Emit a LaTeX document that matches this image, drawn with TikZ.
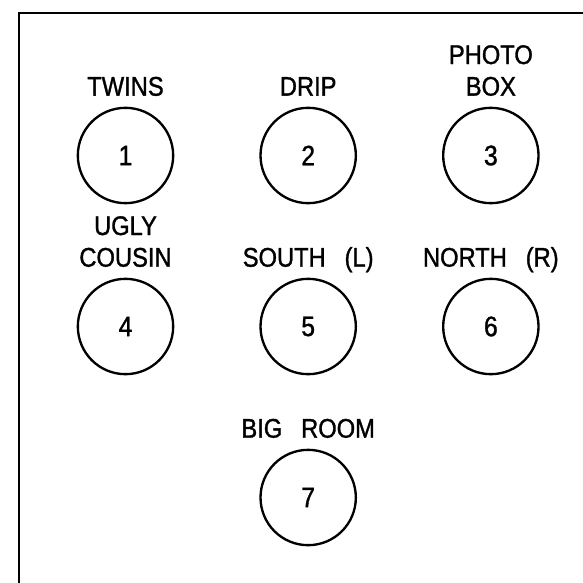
\documentclass[tikz,border=0pt]{standalone}
\usepackage{fontspec}
\setmainfont{Liberation Sans}[FakeStretch=0.88, FakeBold=1.2]
\usetikzlibrary{positioning}

\newcommand{\wgap}{\hspace{0.7em}}

\begin{document}
\begin{tikzpicture}[
  node distance=2.2cm and 2.55cm,
  room/.style={draw, circle, line width=2pt, minimum size=2.86cm,
    inner sep=0pt, font=\fontsize{24}{27}\selectfont},
  tag/.style={inner sep=0pt, outer sep=0pt, text depth=0pt, align=center,
    font=\fontsize{23}{27}\selectfont},
  frame/.style={line width=2.1pt}
]
\clip (0,0) rectangle (17.49,17.49);
\useasboundingbox (0,0) rectangle (17.49,17.49);
% outer frame, open to the right and bottom
\draw[frame] (0.57,-1) |- (18.5,17.1);
% rooms
\node[room] (r1) at (3.765,12.825) {1};
\node[room, right=of r1] (r2) {2};
\node[room, right=of r2] (r3) {3};
\node[room, below=of r1] (r4) {4};
\node[room, below=of r2] (r5) {5};
\node[room, below=of r3] (r6) {6};
\node[room, below=of r5] (r7) {7};
% names
\node[tag, above=0.33cm of r1] (t1) {TWINS};
\node[tag, above=0.33cm of r2] (t2) {DRIP};
\node[tag, above=0.33cm of r3] (t3) {PHOTO\\BOX};
\node[tag, above=0.33cm of r4] (t4) {UGLY\\COUSIN};
\node[tag, above=0.33cm of r5] (t5) {SOUTH\wgap(L)};
\node[tag, above=0.33cm of r6] (t6) {NORTH\wgap(R)};
\node[tag, above=0.33cm of r7] (t7) {BIG\wgap ROOM};
\end{tikzpicture}
\end{document}
